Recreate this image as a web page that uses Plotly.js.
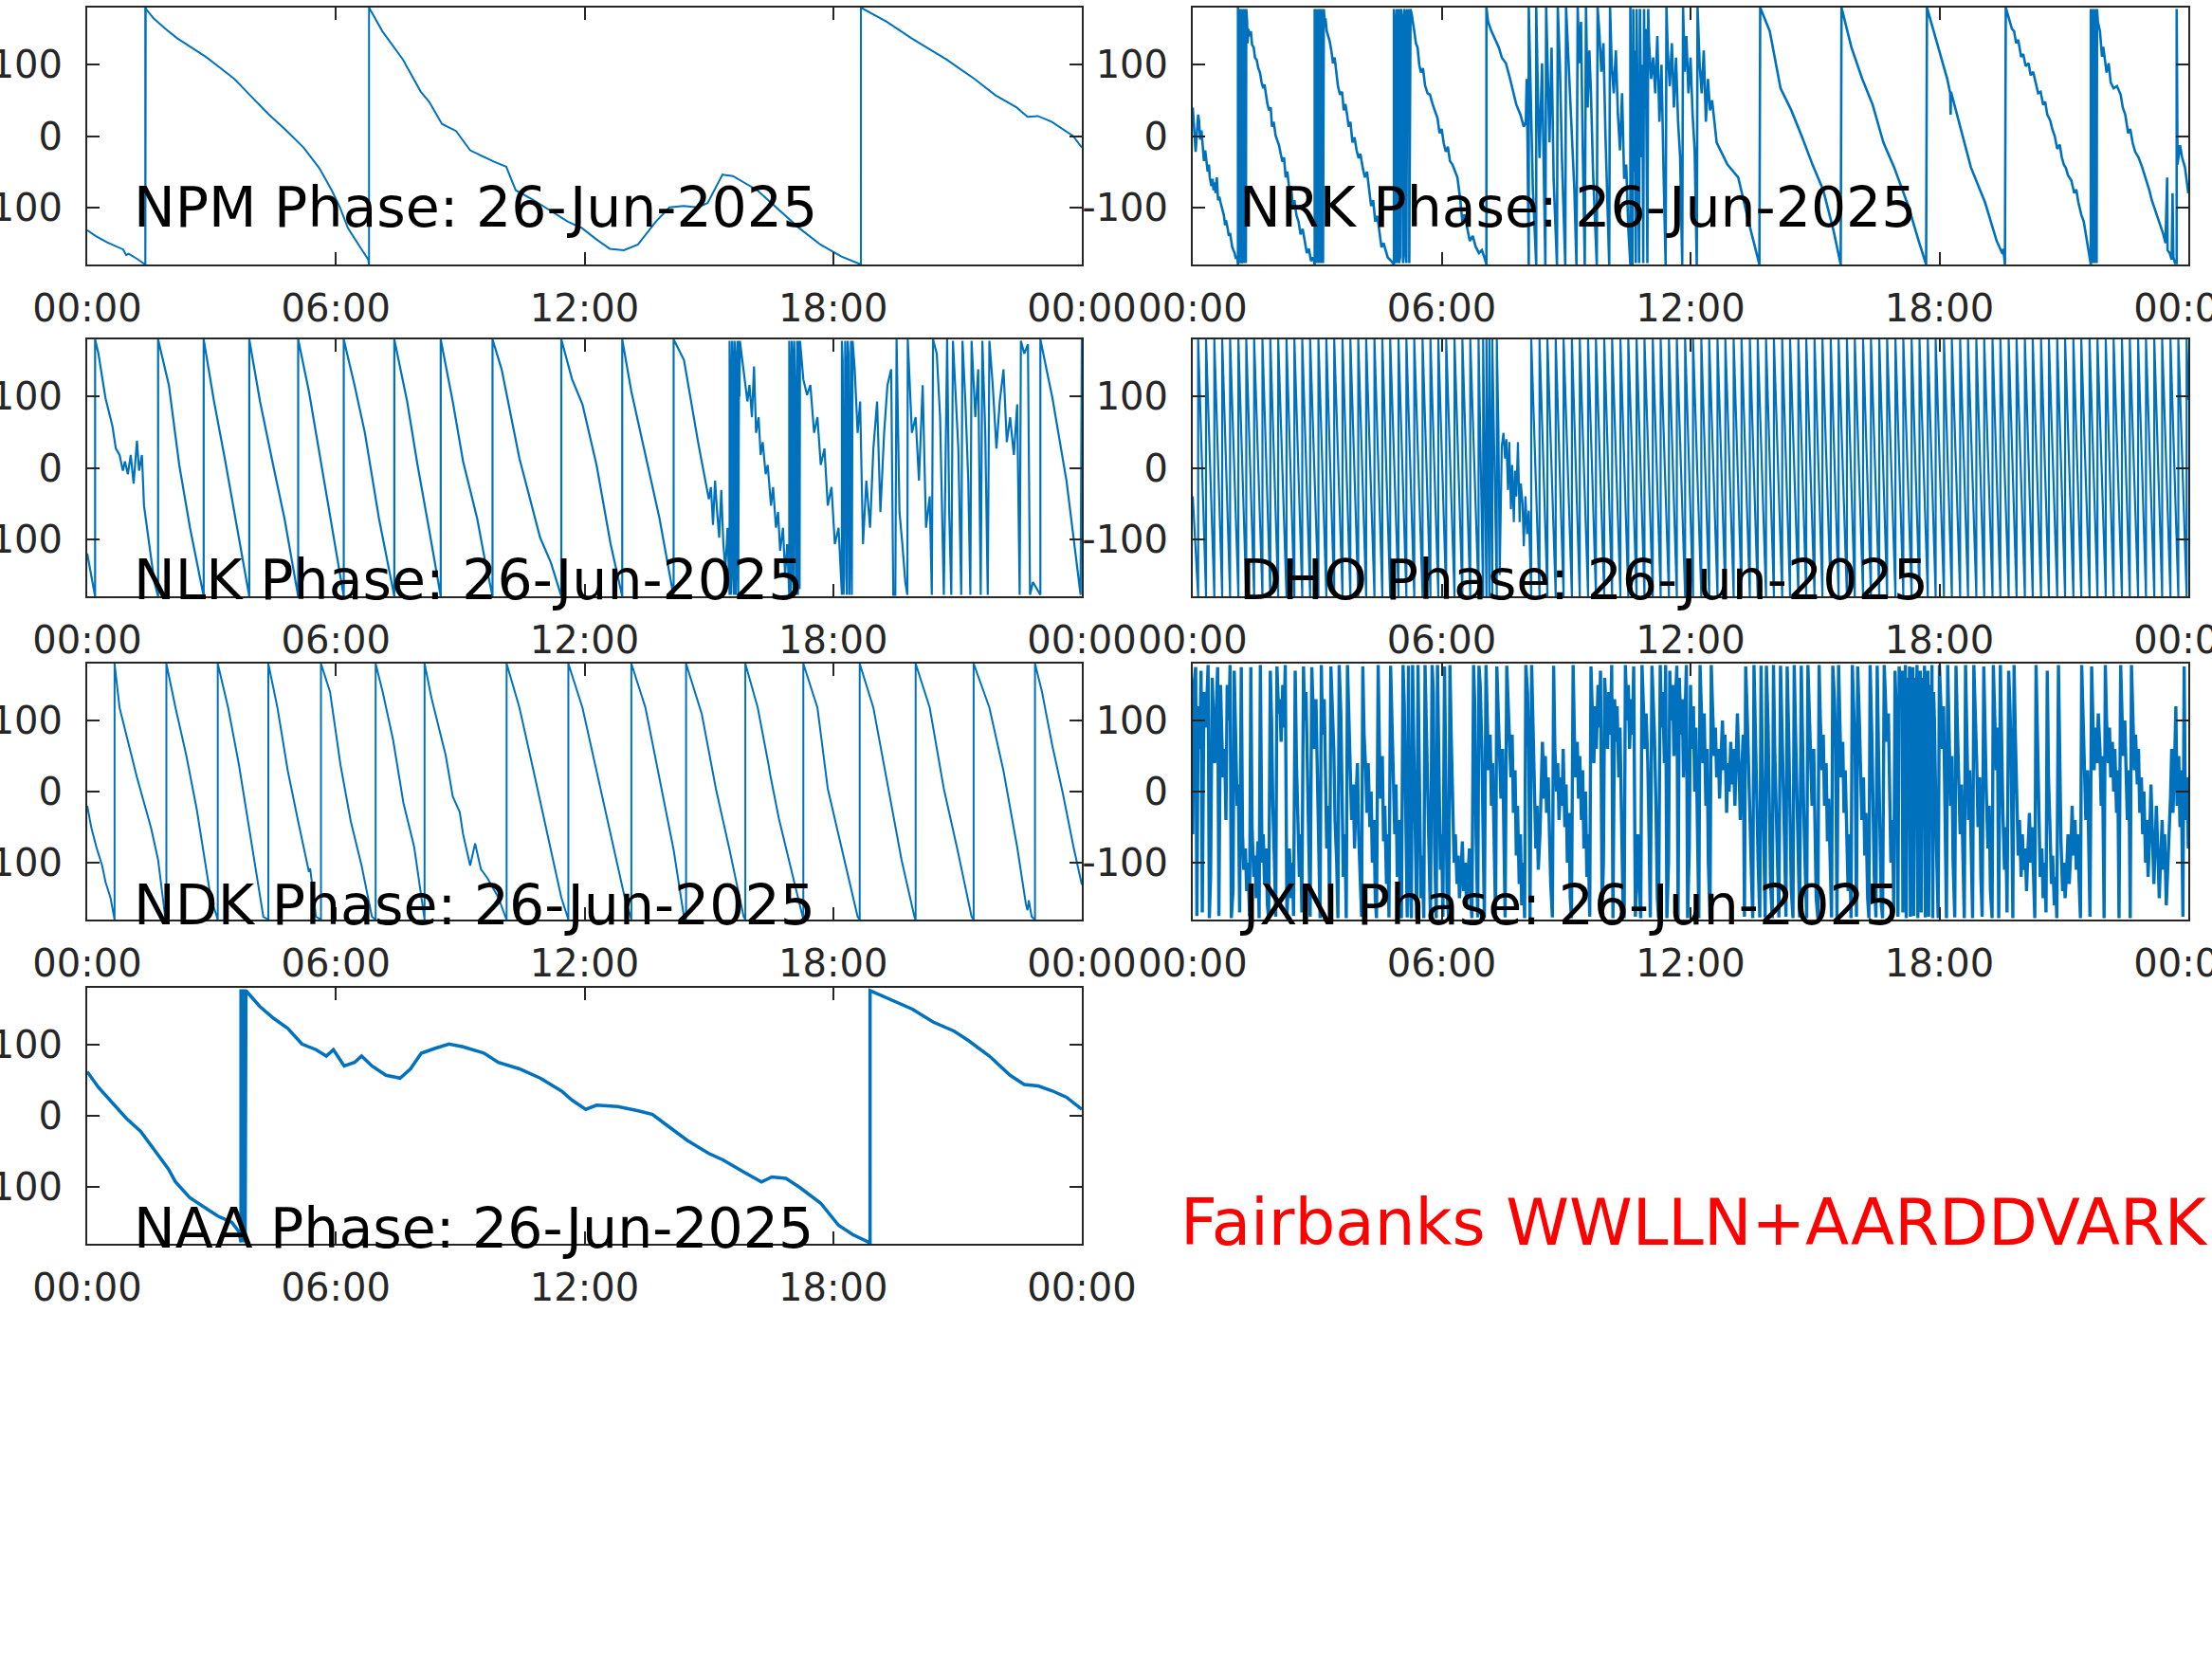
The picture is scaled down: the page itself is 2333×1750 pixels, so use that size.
<!DOCTYPE html>
<html>
<head>
<meta charset="utf-8">
<script src="https://cdn.plot.ly/plotly-3.0.1.min.js"></script>
<style>
html,body{margin:0;padding:0;background:#fff;}
#chart{width:2333px;height:1750px;}
</style>
</head>
<body>
<div id="chart"></div>
<script>
// ---------------- DATA (hours UT, phase in degrees) ----------------
const STATIONS = ['NPM','NRK','NLK','DHO','NDK','JXN','NAA'];
const DATE_LABEL = '26-Jun-2025';
const FOOTER = 'Fairbanks WWLLN+AARDDVARK';
const HOUR_TICKS = [0,6,12,18,24];
const HOUR_LABELS = ['00:00','06:00','12:00','18:00','00:00'];
const PHASE_TICKS = [-100,0,100];
const PHASE_LABELS = ['-100','0','100'];
const PHASE_LIMIT = 180;

const NPM = [[0,-132],[0.2,-140],[0.48,-149],[0.7,-155],[0.87,-159],[0.94,-167],[1.0,-165],[1.2,-172],[1.37,-179],[1.4,-180],[1.4,180],[1.403,178],[1.405,-180],[1.408,180],[1.41,-178],[1.413,180],[1.42,178],[1.6,165],[1.87,151],[2.17,137],[2.5,124],[2.86,111],[3.2,96],[3.55,80],[3.95,56],[4.37,31],[4.8,8],[5.22,-16],[5.6,-45],[5.9,-76],[6.1,-100],[6.29,-129],[6.59,-156],[6.78,-173],[6.8,-180],[6.8,180],[7.12,147],[7.62,107],[8.05,62],[8.25,48],[8.56,17],[8.9,7],[9.24,-20],[9.49,-27],[9.82,-36],[10.11,-43],[10.34,-76],[10.75,-89],[11.26,-107],[11.6,-120],[11.94,-129],[12.29,-145],[12.61,-158],[12.95,-160],[13.29,-152],[13.72,-120],[14.05,-100],[14.39,-98],[14.73,-100],[14.97,-94],[15.33,-54],[15.58,-56],[16.17,-76],[16.68,-103],[17.18,-129],[17.69,-152],[18.2,-169],[18.67,-180],[18.67,180],[19.3,160],[19.89,137],[20.74,107],[21.41,80],[21.92,57],[22.43,40],[22.69,27],[22.94,28],[23.27,20],[23.61,7],[23.79,0],[24,-16]];

const NRK = [[0,40],[0.03,10],[0.07,-22],[0.1,5],[0.13,30],[0.15,22],[0.18,-5],[0.21,8],[0.24,-9],[0.27,-35],[0.3,-20],[0.32,-31],[0.36,-50],[0.39,-40],[0.41,-58],[0.45,-70],[0.48,-60],[0.5,-76],[0.53,-65],[0.55,-80],[0.58,-58],[0.61,-90],[0.64,-85],[0.67,-93],[0.7,-100],[0.73,-108],[0.75,-111],[0.78,-125],[0.8,-118],[0.84,-129],[0.87,-140],[0.9,-136],[0.92,-147],[0.95,-155],[0.98,-160],[1.01,-164],[1.04,-172],[1.07,-168],[1.09,-180],
[1.09,180],[1.1,150],[1.12,178],[1.12,-178],[1.14,-170],[1.15,-178],[1.15,178],[1.17,165],[1.18,178],[1.18,-178],[1.2,-175],[1.2,178],[1.22,160],[1.23,170],[1.23,-178],[1.25,178],[1.27,150],[1.28,-178],[1.29,178],[1.31,160],[1.32,130],[1.34,150],
[1.37,140],[1.4,147],[1.43,128],[1.47,124],[1.5,110],[1.54,107],[1.58,95],[1.62,89],[1.66,75],[1.7,67],[1.73,72],[1.76,58],[1.8,45],[1.84,36],[1.88,40],[1.91,13],[1.95,20],[2.0,0],[2.03,-5],[2.08,-13],[2.12,-25],[2.16,-36],[2.2,-30],[2.24,-58],[2.28,-50],[2.33,-76],[2.37,-70],[2.41,-98],[2.45,-90],[2.5,-111],[2.55,-120],[2.6,-138],[2.65,-130],[2.7,-150],[2.75,-164],[2.8,-158],[2.85,-175],[2.9,-170],
[2.94,-180],[2.94,178],[2.96,160],[2.97,178],[2.97,-178],[2.99,-165],[3.0,-178],[3.0,178],[3.02,150],[3.04,170],[3.04,-178],[3.06,178],[3.08,165],[3.09,-178],[3.1,178],[3.12,155],[3.14,178],[3.14,-178],[3.16,178],[3.18,160],
[3.2,165],[3.23,147],[3.27,140],[3.3,133],[3.34,120],[3.38,102],[3.42,110],[3.46,85],[3.5,70],[3.55,58],[3.6,62],[3.64,36],[3.68,45],[3.72,30],[3.76,13],[3.8,20],[3.85,-9],[3.9,-2],[3.95,-20],[4.0,-31],[4.04,-25],[4.1,-45],[4.15,-58],[4.2,-50],[4.25,-75],[4.3,-98],[4.35,-90],[4.4,-120],[4.45,-112],[4.5,-135],[4.55,-156],[4.6,-150],[4.7,-170],[4.8,-176],[4.85,-180],
[4.85,178],[4.87,160],[4.88,-178],[4.9,-160],[4.92,-178],[4.92,178],[4.95,150],[4.97,178],[4.97,-178],[5.0,-170],[5.02,178],[5.05,165],[5.07,-178],[5.09,-168],[5.1,178],[5.13,170],[5.15,-178],[5.17,178],[5.2,150],[5.22,178],[5.22,-178],[5.25,178],[5.28,170],
[5.3,160],[5.34,147],[5.38,130],[5.42,124],[5.46,100],[5.5,89],[5.55,95],[5.6,71],[5.66,60],[5.72,58],[5.78,45],[5.83,36],[5.9,25],[5.95,4],[6.0,10],[6.05,-10],[6.1,-22],[6.15,-15],[6.2,-35],[6.26,-40],[6.32,-50],[6.38,-58],[6.45,-90],[6.5,-120],[6.55,-110],[6.62,-130],[6.68,-147],[6.75,-140],[6.82,-155],[6.9,-164],[6.97,-160],[7.03,-170],[7.08,-180],
[7.08,180],[7.12,160],[7.2,147],[7.3,135],[7.38,124],[7.45,110],[7.55,102],[7.65,80],[7.75,55],[7.8,44],[7.9,30],[7.98,13],[8.03,20],[8.05,80],[8.07,-5],[8.1,-180],
[8.1,180],[8.15,40],[8.2,-76],[8.28,-180],[8.28,180],[8.32,60],[8.36,-31],[8.42,102],[8.45,-20],[8.5,-180],[8.52,180],[8.56,90],[8.6,-9],[8.65,124],[8.7,-60],[8.74,-120],[8.78,-180],[8.8,180],[8.85,100],[8.9,-31],[8.94,-100],[8.98,-180],[9.0,180],[9.05,120],[9.1,58],[9.15,-20],[9.2,-76],[9.25,-180],[9.28,180],[9.32,102],[9.36,160],[9.4,-10],[9.45,-180],[9.48,180],[9.52,40],[9.56,120],[9.6,60],[9.65,-50],[9.7,-120],[9.74,-180],[9.76,180],[9.8,147],[9.85,90],[9.9,130],[9.95,0],[10.0,-100],[10.04,-180],[10.06,180],[10.1,100],[10.15,60],[10.2,120],[10.25,30],[10.3,-20],[10.35,60],[10.4,-60],[10.45,-40],[10.5,-130],[10.55,-180],
[10.55,180],[10.58,-100],[10.6,-180],[10.62,178],[10.64,-50],[10.66,120],[10.68,-178],[10.7,178],[10.72,60],[10.74,-140],[10.76,-178],[10.78,178],[10.8,90],[10.82,-30],[10.84,100],[10.86,-178],[10.88,178],[10.9,40],[10.92,150],[10.94,-120],[10.96,-178],[10.98,178],[11.0,130],[11.05,80],[11.1,110],[11.15,60],[11.2,140],[11.25,20],[11.3,100],[11.35,-50],[11.4,-180],[11.42,180],[11.45,120],[11.5,70],[11.55,130],[11.6,40],[11.65,110],[11.7,20],[11.75,-30],[11.8,-180],[11.82,180],[11.86,90],[11.9,140],[11.95,60],[12.0,110],[12.05,30],[12.1,-20],[12.15,-180],[12.17,180],[12.22,100],[12.27,60],[12.32,120],[12.37,20],[12.42,80],[12.47,36],[12.52,50],[12.55,36],[12.63,-9],[12.89,-40],[13.15,-58],[13.4,-120],[13.66,-180],
[13.68,180],[13.91,147],[14.17,67],[14.43,36],[14.68,0],[14.94,-40],[15.2,-76],[15.45,-133],[15.62,-180],[15.64,180],[15.88,124],[16.14,80],[16.39,44],[16.65,-9],[16.91,-44],[17.25,-98],[17.5,-147],[17.68,-180],[17.7,180],[17.93,133],[18.19,80],[18.26,60],[18.27,30],[18.28,62],[18.5,13],[18.76,-44],[19.1,-93],[19.38,-147],[19.52,-165],[19.54,-158],[19.58,-180],[19.6,180],
[19.65,170],[19.7,160],[19.75,150],[19.8,147],[19.85,130],[19.9,135],[19.97,111],[20.02,115],[20.08,98],[20.15,102],[20.2,85],[20.26,90],[20.32,76],[20.38,60],[20.44,62],[20.5,44],[20.55,48],[20.6,30],[20.67,22],[20.72,10],[20.78,0],[20.84,-18],[20.9,-12],[20.95,-30],[21.0,-40],[21.05,-45],[21.1,-55],[21.18,-62],[21.25,-80],[21.3,-75],[21.35,-93],[21.42,-110],[21.48,-120],[21.52,-133],[21.57,-150],[21.6,-160],[21.64,-173],
[21.65,-180],[21.65,178],[21.67,160],[21.68,-178],[21.7,-165],[21.71,178],[21.73,150],[21.74,-178],[21.76,178],[21.78,165],[21.79,-178],[21.8,178],
[21.82,160],[21.87,147],[21.92,111],[21.95,125],[22.03,89],[22.08,102],[22.13,75],[22.2,67],[22.28,70],[22.37,58],[22.42,40],[22.48,30],[22.55,4],[22.6,10],[22.66,-10],[22.72,-22],[22.8,-30],[22.89,-44],[22.95,-55],[23.0,-62],[23.06,-76],[23.12,-90],[23.18,-100],[23.23,-111],[23.3,-120],[23.36,-130],[23.4,-138],[23.45,-150],[23.49,-58],[23.5,-160],[23.55,-164],[23.6,-173],[23.62,-80],[23.64,-170],[23.68,-178],[23.72,-178],[23.72,178],[23.74,-40],[23.8,-13],[23.85,-30],[23.92,-44],[24,-80]];

const NLK = [[0,-120],[0.1,-151],[0.19,-180],[0.19,180],[0.27,160],[0.44,98],[0.61,58],[0.69,27],[0.78,18],[0.86,-4],[0.91,9],[0.98,-9],[1.05,18],[1.12,-22],[1.2,38],[1.25,-4],[1.32,18],[1.37,-53],[1.49,-107],[1.62,-160],[1.71,-180],
[1.71,180],[1.97,116],[2.22,4],[2.48,-84],[2.81,-180],
[2.81,180],[3.06,93],[3.32,13],[3.66,-98],[3.91,-180],
[3.91,180],[4.17,93],[4.5,0],[4.76,-71],[5.09,-180],
[5.09,180],[5.35,107],[5.6,22],[5.86,-71],[6.19,-180],
[6.19,180],[6.45,116],[6.7,49],[7.04,-71],[7.41,-180],
[7.41,180],[7.72,93],[7.97,4],[8.23,-80],[8.53,-180],
[8.53,180],[8.82,93],[9.07,9],[9.41,-71],[9.58,-124],[9.78,-180],
[9.78,180],[10.0,138],[10.43,13],[10.93,-98],[11.19,-133],[11.44,-180],
[11.44,180],[11.7,124],[11.95,89],[12.29,4],[12.63,-107],[12.91,-180],
[12.91,180],[13.13,107],[13.47,18],[13.81,-71],[14.15,-180],
[14.15,180],[14.4,151],[14.74,36],[15.0,-44],[15.05,-27],[15.1,-80],[15.15,-18],[15.2,-62],[15.25,-98],[15.3,-31],[15.35,-107],[15.4,-142],[15.45,-84],[15.5,-178],
[15.5,178],[15.52,120],[15.53,-178],[15.55,-150],[15.56,178],[15.58,140],[15.6,-178],[15.62,178],[15.64,160],[15.65,-178],[15.67,-120],[15.69,178],[15.71,-178],[15.73,178],[15.74,100],[15.75,178],
[15.76,173],[15.84,138],[15.93,93],[15.98,116],[16.04,71],[16.09,142],[16.14,49],[16.2,71],[16.25,18],[16.3,36],[16.37,-9],[16.42,4],[16.5,-53],[16.55,-27],[16.62,-84],[16.67,-62],[16.72,-116],[16.79,-84],[16.84,-151],[16.89,-107],[16.94,-178],
[16.94,178],[16.96,130],[16.97,-178],[16.99,-140],[17.0,178],[17.02,150],[17.04,-178],[17.06,178],[17.08,120],[17.1,-178],[17.12,-160],[17.13,178],[17.15,-178],[17.17,178],[17.19,-170],[17.2,178],
[17.28,124],[17.37,102],[17.45,116],[17.54,49],[17.62,71],[17.7,4],[17.79,27],[17.87,-53],[17.96,-27],[18.04,-107],[18.13,-84],[18.21,-178],
[18.21,178],[18.23,150],[18.25,-178],[18.27,-150],[18.29,178],[18.31,120],[18.33,-178],[18.35,178],[18.37,160],[18.39,-178],[18.41,-100],[18.43,178],[18.45,-178],[18.47,178],
[18.52,138],[18.59,49],[18.65,93],[18.72,-107],[18.8,-18],[18.89,-84],[18.97,27],[19.06,93],[19.14,-62],[19.23,49],[19.31,116],[19.4,138],[19.45,-178],[19.5,-178],[19.53,180],[19.6,-62],[19.67,-107],[19.74,-160],[19.79,-178],[19.8,180],[19.9,49],[19.99,71],[20.07,-18],[20.16,116],[20.24,-84],[20.33,-40],[20.38,-178],[20.41,180],[20.5,160],[20.58,71],[20.67,-178],[20.75,180],[20.8,-62],[20.85,-178],[20.89,178],[20.95,116],[21.02,27],[21.09,-178],[21.12,178],[21.19,93],[21.26,-18],[21.31,-178],[21.34,178],[21.43,71],[21.5,138],[21.56,-178],[21.6,178],[21.67,49],[21.73,-178],[21.77,178],[21.85,116],[21.94,27],[22.02,93],[22.11,138],[22.19,36],[22.27,71],[22.36,18],[22.44,89],[22.5,-178],[22.53,178],[22.61,160],[22.7,173],[22.75,-178],[22.82,-160],[22.92,-169],[23.0,-178],[23.0,180],[23.29,98],[23.63,-18],[23.97,-178],[24,180]];

const DHO_START = -40;
const DHO_WRAPS_A = [0.13,0.32,0.52,0.71,0.90,1.10,1.29,1.48,1.68,1.87,2.06,2.26,2.45,2.64,2.83,3.03,3.22,3.41,3.61,3.80,3.99,4.18,4.38,4.57,4.76,4.96,5.15,5.34,5.54,5.73,5.92,6.11,6.31,6.50,6.69,6.89,7.00,7.08,7.15,7.22,7.33];
const DHO_DISTURBED = [[7.37,50],[7.40,-150],[7.42,-60],[7.45,30],[7.49,49],[7.53,13],[7.56,40],[7.6,-31],[7.63,36],[7.67,-58],[7.7,4],[7.74,-76],[7.77,-4],[7.8,-40],[7.84,36],[7.88,-76],[7.91,-22],[7.95,-49],[7.98,-110],[8.02,-40],[8.06,-93],[8.1,-60],[8.13,-120]];
const DHO_WRAPS_B = [8.16,8.36,8.55,8.75,8.94,9.14,9.33,9.53,9.72,9.92,10.11,10.31,10.50,10.70,10.89,11.09,11.28,11.48,11.67,11.87,12.06,12.26,12.45,12.65,12.84,13.04,13.23,13.43,13.62,13.82,14.01,14.21,14.40,14.60,14.79,14.99,15.18,15.38,15.57,15.77,15.96,16.16,16.35,16.55,16.74,16.94,17.13,17.33,17.52,17.72,17.91,18.11,18.30,18.50,18.69,18.89,19.08,19.28,19.47,19.67,19.86,20.06,20.25,20.45,20.64,20.84,21.03,21.23,21.42,21.62,21.81,22.01,22.20,22.40,22.59,22.79,22.98,23.18,23.37,23.57,23.76,23.96];
const DHO_END = 95;

const NDK = [[0,-20],[0.1,-51],[0.22,-78],[0.36,-104],[0.44,-127],[0.56,-149],[0.66,-180],
[0.66,180],[0.78,118],[1.2,20],[1.54,-51],[1.71,-96],[1.88,-176],[1.91,-180],
[1.91,180],[2.13,118],[2.39,51],[2.64,-24],[2.98,-149],[3.15,-180],
[3.15,180],[3.4,118],[3.66,38],[3.91,-51],[4.25,-176],[4.37,-180],
[4.37,180],[4.59,118],[4.84,29],[5.09,-42],[5.35,-113],[5.38,-108],[5.52,-176],[5.64,-180],
[5.64,180],[5.86,140],[6.11,38],[6.36,-42],[6.62,-104],[6.87,-176],[6.96,-180],
[6.96,180],[7.13,140],[7.38,73],[7.63,-16],[7.89,-78],[8.06,-149],[8.14,-180],
[8.14,180],[8.31,131],[8.48,91],[8.65,51],[8.82,-7],[8.99,-29],[9.07,-60],[9.24,-104],[9.36,-73],[9.5,-109],[9.66,-122],[9.92,-149],[10.09,-176],[10.12,-180],
[10.12,180],[10.43,118],[10.77,29],[11.1,-60],[11.44,-149],[11.61,-180],
[11.61,180],[11.95,118],[12.29,29],[12.63,-60],[12.97,-149],[13.13,-180],
[13.13,180],[13.47,118],[13.81,20],[14.15,-82],[14.4,-176],[14.45,-180],
[14.45,180],[14.83,109],[15.17,4],[15.5,-82],[15.84,-176],[15.88,-180],
[15.88,180],[16.18,118],[16.44,38],[16.48,24],[16.69,-38],[17.03,-122],[17.25,-176],[17.28,-180],
[17.28,180],[17.62,118],[17.87,4],[18.21,-82],[18.59,-176],[18.64,-180],
[18.64,180],[18.97,118],[19.31,9],[19.65,-96],[19.96,-176],[19.99,-180],
[19.99,180],[20.33,118],[20.67,4],[21.0,-82],[21.34,-176],[21.39,-180],
[21.39,180],[21.77,118],[22.11,29],[22.44,-78],[22.65,-158],[22.69,-167],[22.72,-153],[22.79,-176],[22.87,-180],
[22.87,180],[23.04,140],[23.29,64],[23.54,-2],[23.8,-78],[24,-131]];

const JXN = [[0,-60],[0.03,150],[0.07,175],[0.1,-175],[0.13,120],[0.17,60],[0.2,170],[0.23,-170],[0.27,140],[0.3,90],[0.34,130],[0.37,178],[0.4,-178],[0.43,-120],[0.47,160],[0.5,100],[0.53,40],[0.57,120],[0.6,175],[0.63,-175],[0.67,150],[0.7,80],[0.73,20],[0.77,60],[0.8,-40],[0.83,150],[0.87,100],[0.9,178],[0.93,-178],[0.97,-140],[1.0,170],[1.03,90],[1.07,-20],[1.1,10],[1.13,-170],[1.17,175],
[1.2,-60],[1.23,-110],[1.27,-80],[1.3,-140],[1.33,-100],[1.37,-175],[1.4,175],[1.43,-50],[1.47,-120],[1.5,-90],[1.53,-150],[1.57,-70],[1.6,-178],[1.63,178],[1.67,-100],[1.7,-60],[1.73,-130],[1.77,-80],[1.8,-160],[1.83,-178],[1.87,170],[1.9,100],[1.93,-20],[1.97,-100],
[2.0,-176],[2.03,176],[2.07,110],[2.1,130],[2.13,70],[2.17,150],[2.2,90],[2.23,178],[2.27,-178],[2.3,-130],[2.33,-80],[2.37,-150],[2.4,-100],[2.43,-175],[2.47,170],[2.5,40],[2.53,-30],[2.57,-120],[2.6,-60],[2.63,-170],[2.67,176],[2.7,100],[2.73,140],[2.77,0],[2.8,-90],[2.83,-176],[2.87,175],
[2.9,120],[2.93,60],[2.97,130],[3.0,20],[3.03,-60],[3.07,-178],[3.1,178],[3.13,80],[3.17,130],[3.2,40],[3.23,-80],[3.27,-20],[3.3,-176],[3.33,176],[3.37,100],[3.4,60],[3.43,-40],[3.47,-100],[3.5,-178],[3.53,178],[3.57,110],[3.6,-30],[3.63,-120],[3.67,-60],[3.7,-178],[3.73,178],
[3.77,70],[3.8,20],[3.83,-40],[3.87,10],[3.9,-80],[3.93,-20],[3.97,40],[4.0,-60],[4.03,-120],[4.07,-176],[4.1,176],[4.13,80],[4.17,30],[4.2,-30],[4.23,40],[4.27,-50],[4.3,0],[4.33,-100],[4.37,-40],[4.4,-150],[4.43,-178],[4.47,178],[4.5,60],[4.53,-10],[4.57,50],[4.6,-70],[4.63,-20],[4.67,-130],[4.7,-60],[4.73,-177],[4.77,177],[4.8,100],[4.83,20],[4.87,-60],[4.9,10],[4.93,-120],[4.97,-40],[5.0,-160],[5.03,-178],[5.07,178],
[5.1,120],[5.13,-40],[5.17,-177],[5.2,177],[5.23,-100],[5.27,-178],[5.3,178],[5.33,60],[5.37,-120],[5.4,-178],[5.43,178],[5.47,-60],[5.5,-150],[5.53,-90],[5.57,-178],[5.6,178],[5.63,100],[5.67,-30],[5.7,-130],[5.73,-178],[5.77,178],[5.8,140],[5.83,-80],[5.87,-178],[5.9,178],[5.93,40],[5.97,-110],[6.0,-60],[6.03,-176],[6.07,176],[6.1,-20],[6.13,-140],[6.17,-178],[6.2,178],[6.23,80],[6.27,-50],
[6.3,-100],[6.33,-60],[6.37,-130],[6.4,-90],[6.43,-150],[6.47,-110],[6.5,-70],[6.53,-140],[6.57,-100],[6.6,-160],[6.63,-120],[6.67,-80],[6.7,-150],[6.73,-178],[6.77,178],[6.8,120],[6.83,-60],[6.87,-177],[6.9,177],[6.93,150],[6.97,60],[7.0,-100],[7.03,-178],[7.07,178],
[7.1,90],[7.13,30],[7.17,80],[7.2,-20],[7.23,40],[7.27,-60],[7.3,-176],[7.33,176],[7.37,100],[7.4,50],[7.43,-10],[7.47,60],[7.5,-40],[7.53,-177],[7.57,177],[7.6,120],[7.63,70],[7.67,20],[7.7,80],[7.73,-30],[7.77,30],[7.8,-90],[7.83,-20],[7.87,-130],[7.9,-60],[7.93,-160],[7.97,-100],[8.0,-178],[8.03,178],[8.07,140],[8.1,60],[8.13,-178],[8.17,178],[8.2,100],[8.23,0],[8.27,-80],[8.3,-20],[8.33,-110],[8.37,-60],
[8.4,30],[8.43,70],[8.47,-10],[8.5,50],[8.53,-30],[8.57,20],[8.6,-60],[8.63,-130],[8.67,-177],[8.7,177],[8.73,60],[8.77,0],[8.8,40],[8.83,-40],[8.87,20],[8.9,-20],[8.93,60],[8.97,-50],[9.0,10],[9.03,-100],[9.07,-30],[9.1,-150],[9.13,-178],[9.17,178],[9.2,80],[9.23,20],[9.27,70],[9.3,-10],[9.33,50],[9.37,-40],[9.4,30],[9.43,-80],[9.47,0],[9.5,-120],[9.53,-60],[9.57,-176],[9.6,176],[9.63,100],[9.67,40],
[9.7,120],[9.73,60],[9.77,150],[9.8,90],[9.83,170],[9.87,-170],[9.9,-100],[9.93,160],[9.97,110],[10.0,60],[10.03,140],[10.07,80],[10.1,178],[10.13,-178],[10.17,130],[10.2,70],[10.23,120],[10.27,20],[10.3,90],[10.33,-40],[10.37,-150],[10.4,-178],[10.43,178],[10.47,100],[10.5,150],[10.53,60],[10.57,130],[10.6,80],[10.63,176],[10.67,-176],[10.7,-120],[10.73,-60],[10.77,-140],[10.8,-178],[10.83,178],[10.87,120],[10.9,60],[10.93,110],[10.97,40],[11.0,-60],[11.03,-177],[11.07,177],[11.1,130],[11.13,80],[11.17,-30],[11.2,-150],[11.23,-178],[11.27,178],[11.3,90],[11.33,140],[11.37,40],
[11.4,178],[11.43,-178],[11.47,-100],[11.5,170],[11.53,100],[11.57,150],[11.6,50],[11.63,120],[11.67,177],[11.7,-177],[11.73,160],[11.77,80],[11.8,130],[11.83,20],[11.87,100],[11.9,178],[11.93,-178],[11.97,-80],[12.0,150],[12.03,60],[12.07,120],[12.1,0],[12.13,90],[12.17,-60],[12.2,-178],[12.23,178],[12.27,100],[12.3,40],[12.33,110],[12.37,-20],[12.4,60],[12.43,-100],[12.47,-178],[12.5,178],[12.53,120],[12.57,50],
[12.6,90],[12.63,20],[12.67,60],[12.7,-10],[12.73,40],[12.77,100],[12.8,30],[12.83,80],[12.87,-30],[12.9,40],[12.93,0],[12.97,70],[13.0,10],[13.03,60],[13.07,-20],[13.1,50],[13.13,110],[13.17,30],[13.2,-40],[13.23,20],[13.27,80],[13.3,-176],[13.33,176],[13.37,100],[13.4,50],[13.43,-30],[13.47,-120],[13.5,-178],[13.53,178],[13.57,60],[13.6,-10],[13.63,-100],[13.67,-177],
[13.7,177],[13.73,40],[13.77,-60],[13.8,-177],[13.83,177],[13.87,90],[13.9,-20],[13.93,-130],[13.97,-178],[14.0,178],[14.03,60],[14.07,-40],[14.1,-150],[14.13,-177],[14.17,177],[14.2,110],[14.23,20],[14.27,-80],[14.3,-176],[14.33,176],[14.37,70],[14.4,-50],[14.43,-140],[14.47,-178],[14.5,178],[14.53,90],[14.57,-10],[14.6,-110],[14.63,-177],[14.67,177],[14.7,50],[14.73,-30],[14.77,-120],[14.8,-178],[14.83,178],[14.87,100],
[14.9,40],[14.93,-20],[14.97,60],[15.0,-60],[15.03,-150],[15.07,-178],[15.1,178],[15.13,100],[15.17,30],[15.2,80],[15.23,-20],[15.27,40],[15.3,-70],[15.33,-10],[15.37,-120],[15.4,-177],[15.43,177],[15.47,130],[15.5,60],[15.53,-178],[15.57,178],[15.6,90],[15.63,20],[15.67,70],[15.7,-30],[15.73,30],[15.77,-80],[15.8,-140],[15.83,-60],[15.87,-178],[15.9,178],[15.93,120],[15.97,50],[16.0,-176],[16.03,176],[16.07,100],[16.1,30],[16.13,-40],[16.17,20],[16.2,-90],[16.23,-30],[16.27,-150],[16.3,-178],[16.33,178],[16.37,80],[16.4,-20],[16.43,-120],[16.47,-177],[16.5,177],[16.53,60],[16.57,-50],[16.6,-160],[16.63,-178],[16.67,178],[16.7,130],[16.73,70],[16.77,110],[16.8,0],[16.83,-100],[16.87,-40],[16.9,-170],[16.93,170],[16.97,90],[17.0,-176],[17.03,176],[17.07,120],
[17.1,170],[17.12,-170],[17.14,150],[17.16,100],[17.18,178],[17.2,-178],[17.22,130],[17.24,160],[17.26,90],[17.28,176],[17.3,-176],[17.32,140],[17.34,110],[17.36,175],[17.38,-175],[17.4,120],[17.42,160],[17.44,80],[17.46,178],[17.48,-178],[17.5,150],[17.52,100],[17.54,170],[17.56,-170],[17.58,130],[17.6,160],[17.62,90],[17.64,177],[17.66,-177],[17.68,140],[17.7,110],[17.72,170],[17.74,-176],[17.76,120],[17.78,150],[17.8,60],[17.82,178],[17.84,-178],[17.86,140],[17.88,100],[17.9,20],[17.93,-80],[17.97,-178],[18.0,178],[18.03,130],[18.07,60],[18.1,120],[18.13,-40],[18.17,-178],
[18.2,178],[18.23,80],[18.27,-20],[18.3,50],[18.33,-100],[18.37,-177],[18.4,177],[18.43,100],[18.47,20],[18.5,-60],[18.53,10],[18.57,-130],[18.6,-178],[18.63,178],[18.67,60],[18.7,-40],[18.73,30],[18.77,-90],[18.8,-178],[18.83,178],[18.87,110],[18.9,40],[18.93,-50],[18.97,20],[19.0,-120],[19.03,-176],[19.07,176],[19.1,80],[19.13,0],[19.17,-80],[19.2,-20],[19.23,-140],[19.27,-178],[19.3,178],[19.33,100],[19.37,30],[19.4,90],[19.43,-178],[19.47,178],[19.5,60],[19.53,-30],[19.57,-110],[19.6,-50],[19.63,-170],[19.67,170],[19.7,120],[19.73,50],[19.77,-178],[19.8,178],[19.83,80],[19.87,-10],[19.9,-90],[19.93,-40],[19.97,-120],
[20.0,-60],[20.03,-110],[20.07,-80],[20.1,-140],[20.13,-90],[20.17,-30],[20.2,-100],[20.23,-50],[20.27,-120],[20.3,-178],[20.33,178],[20.37,60],[20.4,-40],[20.43,-120],[20.47,-80],[20.5,-150],[20.53,-100],[20.57,-170],[20.6,170],[20.63,20],[20.67,-60],[20.7,-130],[20.73,-90],[20.77,-160],[20.8,-120],[20.83,-178],[20.87,178],[20.9,40],[20.93,-70],[20.97,-140],[21.0,-100],[21.03,-150],[21.07,-110],[21.1,-60],[21.13,-130],[21.17,-80],[21.2,-20],[21.23,-90],[21.27,-40],[21.3,-110],[21.33,-60],[21.37,-130],[21.4,-178],[21.43,178],[21.47,100],[21.5,20],[21.53,-40],[21.57,30],[21.6,-60],[21.63,-176],
[21.67,176],[21.7,80],[21.73,30],[21.77,90],[21.8,40],[21.83,110],[21.87,60],[21.9,-20],[21.93,50],[21.97,-178],[22.0,178],[22.03,100],[22.07,40],[22.1,90],[22.13,20],[22.17,70],[22.2,0],[22.23,60],[22.27,-30],[22.3,30],[22.33,-178],[22.37,178],[22.4,120],[22.43,50],[22.47,100],[22.5,20],[22.53,-40],[22.57,30],[22.6,-178],[22.63,178],[22.67,90],[22.7,30],[22.73,80],[22.77,10],[22.8,60],[22.83,-30],[22.87,20],
[22.9,-60],[22.93,0],[22.97,-100],[23.0,-40],[23.03,-120],[23.07,-60],[23.1,10],[23.13,-50],[23.17,-130],[23.2,-80],[23.23,-20],[23.27,-90],[23.3,-150],[23.33,-100],[23.37,-40],[23.4,-110],[23.43,-60],[23.47,-160],[23.5,-120],[23.53,-70],[23.57,-10],[23.6,60],[23.63,-30],[23.67,40],[23.7,120],[23.73,-20],[23.77,50],[23.8,-50],[23.83,30],[23.87,-176],[23.9,176],[23.93,-40],[23.97,20],[24.0,-80]];

const NAA = [[0,62],[0.27,40],[0.61,18],[0.95,-4],[1.29,-22],[1.62,-48],[1.96,-75],[2.13,-93],[2.47,-115],[2.81,-128],[3.15,-141],[3.49,-150],[3.66,-163],[3.71,-178],
[3.71,178],[3.73,-175],[3.74,178],[3.75,-178],[3.77,176],[3.78,-178],[3.8,178],[3.81,-176],[3.83,176],
[4.16,154],[4.5,137],[4.84,123],[5.18,101],[5.52,93],[5.77,84],[5.94,93],[6.2,70],[6.45,75],[6.62,84],[6.87,70],[7.21,57],[7.55,53],[7.8,66],[8.06,88],[8.4,95],[8.73,101],[9.07,97],[9.58,88],[9.92,75],[10.43,66],[10.93,53],[11.44,35],[11.7,22],[12.03,9],[12.29,15],[12.8,13],[13.3,7],[13.64,2],[13.98,-13],[14.49,-35],[15.0,-53],[15.34,-62],[15.84,-79],[16.27,-93],[16.52,-86],[16.86,-88],[17.2,-101],[17.7,-123],[18.13,-154],[18.47,-167],[18.86,-178],
[18.89,-180],[18.89,176],[19.4,163],[19.91,150],[20.41,132],[20.92,119],[21.26,106],[21.77,84],[22.27,57],[22.61,44],[22.95,42],[23.29,35],[23.63,26],[24,9]];

// ---------------- BUILD ----------------
function buildDHO(){
  const pts = [[0, DHO_START]];
  DHO_WRAPS_A.forEach(w => { pts.push([w, -PHASE_LIMIT], [w, PHASE_LIMIT]); });
  DHO_DISTURBED.forEach(p => pts.push(p));
  DHO_WRAPS_B.forEach(w => { pts.push([w, -PHASE_LIMIT], [w, PHASE_LIMIT]); });
  pts.push([24, DHO_END]);
  return pts;
}
const SERIES = {NPM, NRK, NLK, DHO: buildDHO(), NDK, JXN, NAA};
const WIDTHS = {NPM: 2, NRK: 2.6, NLK: 2.2, DHO: 2.2, NDK: 2, JXN: 3.4, NAA: 3.5};

const W = 2333, H = 1750;
const COLS = [[92,1141],[1258,2308]];
const ROWS = [[8,279],[358,629],[700,970],[1042,1312]];
const LABEL_BASE = [239, 632, 975, 1316];
const FONT = 'DejaVu Sans';
const INK = '#262626';
const LINE = '#0072BD';

const data = [];
const layout = {
  width: W, height: H,
  margin: {l:0, r:0, t:0, b:0},
  paper_bgcolor: '#ffffff', plot_bgcolor: '#ffffff',
  showlegend: false,
  font: {family: FONT, color: INK, size: 40},
  annotations: []
};

STATIONS.forEach((name, i) => {
  const row = Math.floor(i/2), col = i % 2;
  const xid = i === 0 ? 'x' : 'x' + (i+1);
  const yid = i === 0 ? 'y' : 'y' + (i+1);
  const pts = SERIES[name];
  data.push({
    type: 'scatter', mode: 'lines',
    x: pts.map(p => p[0]), y: pts.map(p => p[1]),
    xaxis: xid, yaxis: yid,
    line: {color: LINE, width: WIDTHS[name]},
    hoverinfo: 'skip'
  });
  const [x0, x1] = COLS[col];
  const [y0, y1] = ROWS[row];
  const common = {
    showline: true, linecolor: INK, linewidth: 2, mirror: 'ticks',
    ticks: 'inside', ticklen: 13, tickwidth: 2, tickcolor: INK,
    showgrid: false, zeroline: false, fixedrange: true,
    ticklabeloverflow: 'allow',
    tickfont: {family: FONT, size: 40, color: INK}
  };
  layout[xid === 'x' ? 'xaxis' : 'xaxis' + (i+1)] = Object.assign({}, common, {
    domain: [x0/W, x1/W], anchor: yid, range: [0, 24],
    tickmode: 'array', tickvals: HOUR_TICKS, ticktext: HOUR_LABELS,
    ticklabelstandoff: 10
  });
  layout[yid === 'y' ? 'yaxis' : 'yaxis' + (i+1)] = Object.assign({}, common, {
    domain: [1 - y1/H, 1 - y0/H], anchor: xid, range: [-PHASE_LIMIT, PHASE_LIMIT],
    tickmode: 'array', tickvals: PHASE_TICKS, ticktext: PHASE_LABELS,
    ticklabelstandoff: 16
  });
  layout.annotations.push({
    xref: 'paper', yref: 'paper', showarrow: false,
    x: (x0 + 47)/W, y: 1 - (LABEL_BASE[row] - 0.346*58.5)/H,
    xanchor: 'left', yanchor: 'middle',
    text: name + ' Phase: ' + DATE_LABEL,
    font: {family: FONT, size: 58.5, color: '#000000'}
  });
});

layout.annotations.push({
  xref: 'paper', yref: 'paper', showarrow: false,
  x: 1243/W, y: 1 - (1313 - 0.346*67.5)/H,
  xanchor: 'left', yanchor: 'middle',
  text: FOOTER,
  font: {family: FONT, size: 67.5, color: '#FF0000'}
});

Plotly.newPlot('chart', data, layout, {staticPlot: true, displayModeBar: false});
</script>
</body>
</html>
